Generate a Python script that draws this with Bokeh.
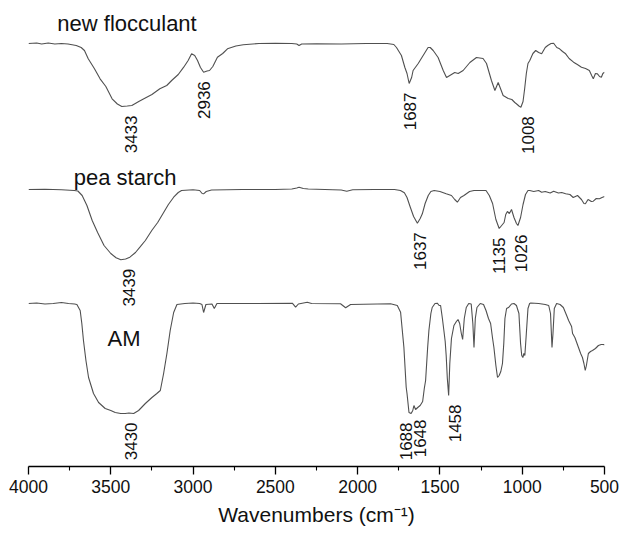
import numpy as np
from bokeh.plotting import figure
from bokeh.models import Range1d, FixedTicker
from bokeh.core.properties import value
from bokeh.embed import file_html
from bokeh.resources import INLINE

# ---------------- data (transmittance, arbitrary units; 100 = baseline) -------------
wn_floc = [4000, 3950, 3920, 3880, 3840, 3800, 3760, 3710, 3680, 3660, 3637, 3600, 3565, 3530,
           3492, 3460, 3433, 3400, 3372, 3330, 3299, 3250, 3202, 3160, 3130, 3090, 3057, 3030,
           3009, 2990, 2973, 2955, 2936, 2915, 2900, 2880, 2852, 2820, 2791, 2740, 2695, 2600,
           2500, 2400, 2370, 2356, 2340, 2250, 2100, 1950, 1820, 1780, 1764, 1734, 1713, 1700,
           1687, 1672, 1663, 1632, 1602, 1572, 1559, 1541, 1511, 1480, 1460, 1440, 1410, 1389,
           1359, 1318, 1278, 1238, 1217, 1187, 1166, 1146, 1116, 1085, 1063, 1045, 1030, 1020,
           1008, 995, 985, 975, 965, 954, 935, 918, 900, 882, 860, 845, 825, 809, 790, 773, 755,
           736, 715, 688, 665, 640, 615, 592, 578, 568, 555, 543, 530, 519, 510, 500]
t_floc = [100, 100.5, 99.5, 100.5, 99.5, 100, 99.5, 98, 96, 93, 84.7, 75, 64.7, 57,
          44.7, 39.5, 37, 37.5, 38, 42, 44.7, 49, 54.7, 58, 63, 69, 76.3, 83,
          89.7, 88, 83, 76, 71.3, 72.5, 73, 77, 86.3, 90, 94.7, 97.5, 98.7, 100,
          100.2, 100, 99.5, 98, 99.5, 99.8, 99.5, 100, 100, 99, 96, 88, 76, 70,
          60, 66, 73, 80, 88, 96, 96, 93, 86, 73, 66, 68, 71, 70,
          73, 81, 86, 85, 80, 63, 53, 61, 48, 45, 44, 41, 39, 37.5,
          36.3, 42, 55, 70, 80, 83, 90, 93, 91, 89.7, 96, 98, 100, 100.3, 96, 94.7, 92,
          89.7, 85, 81.3, 79, 76.3, 75, 73, 68, 64.7, 70, 69.7, 67, 66.3, 70, 71.3]

wn_starch = [4000, 3900, 3800, 3722, 3700, 3674, 3645, 3613, 3580, 3541, 3500, 3468, 3439, 3410,
             3384, 3350, 3323, 3290, 3251, 3215, 3178, 3150, 3118, 3090, 3070, 3000, 2960, 2945,
             2936, 2920, 2888, 2700, 2500, 2400, 2370, 2356, 2330, 2300, 2200, 2100, 2066, 2030,
             1900, 1776, 1740, 1716, 1700, 1680, 1660, 1637, 1620, 1607, 1590, 1571, 1555, 1535,
             1500, 1462, 1430, 1410, 1394, 1375, 1354, 1320, 1293, 1250, 1220, 1200, 1180, 1160,
             1140, 1125, 1110, 1100, 1090, 1078, 1065, 1050, 1035, 1026, 1010, 995, 980, 965,
             954, 930, 900, 882, 860, 830, 809, 780, 760, 736, 710, 690, 664, 640, 625, 616,
             600, 592, 580, 568, 550, 531, 515, 500]
t_starch = [100, 100.3, 99.7, 99, 98.5, 94, 84, 69, 57, 44, 36, 31.7, 29.7, 30.5,
            32.3, 37, 42.3, 49, 59, 67, 77.3, 85, 92.3, 97, 99, 99.8, 99, 96,
            95.7, 98, 99.5, 100, 100, 100.5, 101.5, 102.3, 101, 100.5, 100, 99.5, 98.3, 99.7,
            100, 100, 99, 96.7, 92, 82.3, 73, 66.3, 71, 75.7, 86, 94, 98, 99,
            98, 95.7, 94, 90, 87.3, 92, 94, 98, 99, 99, 99, 94, 86, 70,
            61, 64, 67, 75, 78, 76, 80, 72, 66, 64, 72, 85, 95, 99,
            99, 98, 99, 97.3, 98, 96.5, 98.3, 96.5, 97, 95.7, 95, 92, 94, 90, 86, 85.7,
            90, 89.3, 88, 88.3, 91, 90.7, 92, 93]

wn_am = [4000, 3950, 3900, 3850, 3800, 3757, 3720, 3706, 3686, 3676, 3666, 3651, 3635, 3605,
         3574, 3534, 3500, 3473, 3440, 3412, 3390, 3361, 3331, 3290, 3250, 3220, 3199, 3179,
         3159, 3139, 3118, 3098, 3050, 3000, 2960, 2946, 2936, 2922, 2885, 2871, 2855, 2750,
         2610, 2397, 2377, 2360, 2306, 2280, 2104, 2073, 2043, 1800, 1759, 1739, 1719, 1705,
         1700, 1688, 1675, 1665, 1658, 1648, 1635, 1620, 1605, 1595, 1587, 1575, 1567, 1555,
         1547, 1530, 1516, 1505, 1496, 1485, 1476, 1468, 1462, 1455, 1447, 1440, 1430, 1415,
         1400, 1390, 1380, 1370, 1362, 1352, 1340, 1325, 1310, 1300, 1293, 1285, 1275, 1255,
         1235, 1220, 1205, 1192, 1180, 1172, 1160, 1150, 1140, 1130, 1120, 1112, 1105, 1095,
         1081, 1065, 1050, 1035, 1020, 1010, 1003, 996, 990, 984, 975, 965, 955, 948,
         900, 860, 839, 828, 819, 813, 805, 791, 770, 750, 730, 718, 700, 694, 680, 658,
         645, 634, 625, 617, 610, 598, 585, 573, 555, 537, 520, 506, 500]
t_am = [100, 100.5, 99.5, 100, 101, 100, 99.5, 99, 93, 80, 63, 43, 26, 10,
        1, -5, -7, -9, -10, -10, -9.5, -10, -7, 0, 6, 10, 13, 30,
        50, 73, 91, 99, 100, 100.5, 100, 99, 91, 99, 99.5, 95, 100, 100,
        100, 100.3, 96.3, 99.5, 101.3, 100, 99.7, 95.7, 99, 99.7, 98, 91.3, 56.3, 16.3,
        10, -9, -10, -7, -2, -6, -4, -2, 2, 15, 23, 55, 73, 90,
        96, 100, 100.3, 98, 98, 85, 73, 62, 48, 25, 8, 40, 65, 78,
        82, 84, 80, 70, 64, 85, 96, 100, 99.5, 80, 56, 85, 96, 100,
        99, 93, 85, 80, 65, 56, 38, 26, 28, 32, 40, 60, 85, 95,
        96.3, 99.5, 100, 98, 90, 60, 48, 46, 50, 48, 70, 95, 100, 100.5,
        100, 99, 98, 90, 56, 70, 95, 100, 99, 96, 88, 83, 77, 70, 66, 56,
        50, 46, 40, 33, 38, 50, 52, 53, 55, 58, 59, 59, 58.5]

names = ["new flocculant", "pea starch", "AM"]
peaks_floc = [3433, 2936, 1687, 1008]
peaks_starch = [3439, 1637, 1135, 1026]
peaks_am = [3430, 1688, 1648, 1458]
x_ticks = [4000, 3500, 3000, 2500, 2000, 1500, 1000, 500]
x_minor = [3750, 3250, 2750, 2250, 1750, 1250, 750]

# ---------------- styles / layout ----------------
FONT = "Liberation Sans"
LINE = "#505050"
offsets = [323, 177, 63]                    # vertical stacking of the three spectra
name_pos = [(3825, 443), (3725, 289), (3520, 128)]
label_dx = {3433: 9, 2936: 0, 1687: 1, 1008: 7, 3439: 8, 1637: 3, 1135: -1, 1026: 3,
            3430: 9, 1688: -3, 1648: 4, 1458: 8}
label_gap = 9

p = figure(width=621, height=534, output_backend="svg", toolbar_location=None,
           x_range=Range1d(4000, 500), y_range=Range1d(0, 466),
           y_axis_location=None, min_border_left=28, min_border_right=17,
           min_border_top=0, min_border_bottom=68)
p.outline_line_color = None
p.grid.visible = False
p.background_fill_color = "white"
p.border_fill_color = "white"

series = [(wn_floc, t_floc, peaks_floc), (wn_starch, t_starch, peaks_starch), (wn_am, t_am, peaks_am)]
for (wn, t, peaks), off, name, (nx, ny) in zip(series, offsets, names, name_pos):
    wn = np.array(wn, dtype=float)
    y = np.array(t, dtype=float) + off
    p.line(wn, y, line_color=LINE, line_width=1.1)
    p.text(x=[nx], y=[ny], text=[name], text_font=value(FONT), text_font_size="22px",
           text_color="#111111", text_align="left", text_baseline="middle")
    for pk in peaks:
        m = (wn > pk - 25) & (wn < pk + 25)
        ymin = y[m].min()
        p.text(x=[pk], y=[ymin], text=[str(pk)], angle=np.pi / 2,
               x_offset=label_dx[pk], y_offset=label_gap,
               text_font=value(FONT), text_font_size="17px", text_color="#111111",
               text_align="right", text_baseline="middle")

ax = p.xaxis[0]
ax.ticker = FixedTicker(ticks=x_ticks, minor_ticks=x_minor)
ax.axis_label = "Wavenumbers (cm\u207b\u00b9)"
ax.axis_label_text_font = FONT
ax.axis_label_text_font_style = "normal"
ax.axis_label_text_font_size = "21px"
ax.axis_label_text_color = "#111111"
ax.axis_label_standoff = 7
ax.major_label_text_font = FONT
ax.major_label_text_font_size = "17.5px"
ax.major_label_text_color = "#111111"
ax.major_label_standoff = 5
ax.axis_line_color = "black"
ax.axis_line_width = 1.3
ax.major_tick_line_color = "black"
ax.major_tick_line_width = 1.3
ax.major_tick_in = 0
ax.major_tick_out = 8
ax.minor_tick_line_color = "black"
ax.minor_tick_line_width = 1.1
ax.minor_tick_in = 0
ax.minor_tick_out = 4

open("out.html", "w").write(file_html(p, INLINE))
